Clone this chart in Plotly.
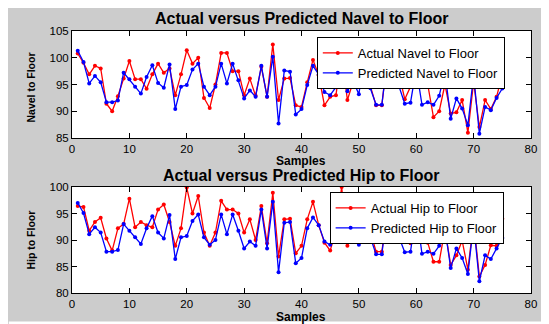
import plotly.graph_objects as go

samples = list(range(1, 76))

navel_actual = [100.8, 99.05, 96.9, 98.5, 98.0, 91.4, 90.0, 92.8, 96.1, 99.4,
                96.0, 96.0, 94.2, 96.9, 98.9, 97.2, 98.0, 93.0, 96.9, 101.4,
                98.9, 100.0, 92.5, 90.6, 95.0, 100.9, 100.9, 97.5, 97.5, 93.0,
                96.1, 92.9, 98.3, 92.7, 102.5, 92.1, 96.1, 96.2, 91.1, 90.8,
                95.4, 99.6, 96.75, 91.1, 92.7, 93.0, 100.5, 92.1, 95.5, 95.0,
                99.5, 94.7, 91.1, 91.1, 100.5, 96.5, 96.9, 92.25, 94.6, 97.7,
                96.2, 95.0, 88.9, 90.0, 95.0, 89.6, 89.8, 92.1, 86.0, 95.5,
                87.05, 92.1, 90.4, 92.7, 96.9]
navel_pred = [101.3, 99.2, 95.2, 96.6, 95.4, 91.7, 91.7, 92.0, 97.2, 96.0,
              94.6, 93.3, 96.4, 98.6, 95.3, 94.4, 98.75, 90.4, 94.6, 94.9,
              97.8, 98.9, 94.6, 93.0, 94.6, 98.9, 95.2, 98.9, 95.8, 92.4,
              93.9, 92.7, 98.5, 92.7, 100.2, 87.7, 97.6, 97.4, 89.4, 90.4,
              94.9, 98.5, 96.9, 93.6, 93.0, 94.5, 99.5, 93.75, 95.6, 93.2,
              100.5, 94.3, 91.2, 91.2, 100.0, 96.2, 94.6, 91.4, 91.6, 98.0,
              91.2, 91.7, 91.2, 92.9, 97.4, 88.6, 92.4, 90.5, 87.4, 96.75,
              85.8, 90.8, 90.2, 92.5, 94.25]
hip_actual = [96.4, 96.25, 91.75, 93.4, 94.2, 90.3, 88.0, 92.2, 93.0, 97.8,
              92.4, 93.4, 92.8, 92.4, 95.75, 96.7, 93.4, 88.9, 92.2, 99.9,
              95.0, 98.3, 91.4, 88.9, 91.4, 97.4, 95.75, 95.75, 95.0, 91.4,
              93.9, 90.0, 96.4, 89.4, 98.9, 86.9, 93.9, 94.0, 87.5, 88.9,
              93.9, 97.2, 92.8, 89.5, 88.0, 91.7, 100.0, 88.9, 91.9, 90.2,
              96.0, 91.6, 87.8, 87.8, 95.5, 92.5, 91.0, 89.8, 89.4, 96.0,
              91.9, 89.5, 85.9, 85.9, 92.0, 85.3, 87.1, 89.9, 84.4, 93.5,
              83.1, 85.3, 89.0, 88.9, 94.0]
hip_pred = [97.0, 95.1, 91.1, 92.4, 91.4, 87.8, 87.8, 88.1, 93.0, 91.75,
            90.5, 89.25, 92.2, 94.5, 91.4, 90.3, 94.7, 86.4, 90.5, 90.75,
            93.6, 94.8, 90.5, 89.1, 90.0, 94.8, 91.1, 94.8, 91.75, 88.4,
            89.7, 88.9, 95.75, 88.4, 97.2, 83.9, 93.25, 93.4, 85.6, 86.6,
            92.2, 94.25, 92.8, 89.7, 89.1, 91.5, 96.5, 90.3, 91.6, 89.1,
            95.5, 90.5, 87.3, 87.3, 96.0, 91.9, 90.5, 87.7, 87.8, 95.5,
            87.4, 87.8, 87.4, 88.9, 92.2, 84.7, 88.4, 86.6, 83.6, 93.0,
            82.2, 87.1, 86.4, 88.4, 90.4]

x_ticks = [0, 10, 20, 30, 40, 50, 60, 70, 80]
top_yticks = [85, 90, 95, 100, 105]
bot_yticks = [80, 85, 90, 95, 100]

RED = "#ff0000"
BLUE = "#0000ff"
FONT = "Liberation Sans, Arial, sans-serif"

# The page body adds an 8px offset; the figure is 541x316 so that it
# fills the 549x324 window. Helpers take window pixel coordinates.
OFF = 8
W, H = 541, 316
L, R, T, B = 64, 12, 23, 31
PW, PH = W - L - R, H - T - B
def px(X):
    return (X - OFF - L) / PW
def py(Y):
    return (H - B - (Y - OFF)) / PH

fig = go.Figure()

def add(x, y, name, color, xa, ya, leg):
    fig.add_trace(go.Scatter(
        x=x, y=y, name=name, mode="lines+markers",
        line=dict(color=color, width=1.3),
        marker=dict(color=color, size=4, symbol="circle"),
        xaxis=xa, yaxis=ya, legend=leg))

add(samples, navel_actual, "Actual Navel to Floor", RED, "x", "y", "legend")
add(samples, navel_pred, "Predicted Navel to Floor", BLUE, "x", "y", "legend")
add(samples, hip_actual, "Actual Hip to Floor", RED, "x2", "y2", "legend2")
add(samples, hip_pred, "Predicted Hip to Floor", BLUE, "x2", "y2", "legend2")

axis_common = dict(showgrid=False, zeroline=False, showline=True, linecolor="black",
                   linewidth=1, mirror="ticks", ticks="inside", ticklen=5,
                   tickcolor="black", tickfont=dict(family=FONT, size=11.5, color="black"))

top_dom = [py(138), 1.0]
bot_dom = [0.0, py(187)]

leg_common = dict(xanchor="left", yanchor="top", bgcolor="white", bordercolor="black",
                  borderwidth=1, font=dict(family=FONT, size=13, color="black"),
                  tracegroupgap=0, itemwidth=30)

fig.update_layout(
    width=W, height=H,
    margin=dict(l=L, r=R, t=T, b=B),
    paper_bgcolor="#cccccc", plot_bgcolor="white",
    xaxis=dict(domain=[0, 1], range=[0, 80], tickvals=x_ticks, anchor="y", **axis_common),
    yaxis=dict(domain=top_dom, range=[85, 105], tickvals=top_yticks, anchor="x", **axis_common),
    xaxis2=dict(domain=[0, 1], range=[0, 80], tickvals=x_ticks, anchor="y2", **axis_common),
    yaxis2=dict(domain=bot_dom, range=[80, 100], tickvals=bot_yticks, anchor="x2", **axis_common),
    legend=dict(x=px(320), y=py(37), **leg_common),
    legend2=dict(x=px(333), y=py(192), **leg_common),
    showlegend=True,
)

def ann(text, X, Y, size, angle=0):
    fig.add_annotation(text=text, x=px(X), y=py(Y), xref="paper", yref="paper",
                       showarrow=False, textangle=angle, xanchor="center", yanchor="middle",
                       font=dict(family=FONT, size=size, color="black"))

ann("<b>Actual versus Predicted Navel to Floor</b>", 304, 19, 16)
ann("<b>Actual versus Predicted Hip to Floor</b>", 304, 175.5, 16)
ann("<b>Samples</b>", 304, 160.5, 12)
ann("<b>Samples</b>", 304, 316.5, 12)
ann("<b>Navel to Floor</b>", 30, 88, 10.5, -90)
ann("<b>Hip to Floor</b>", 30, 240, 10.5, -90)

# thin white strip at the bottom of the original image
fig.add_shape(type="rect", xref="paper", yref="paper",
              x0=px(OFF), x1=px(549), y0=py(324), y1=py(321.5),
              fillcolor="white", line=dict(width=0), layer="below")

fig.write_html("out.html")
